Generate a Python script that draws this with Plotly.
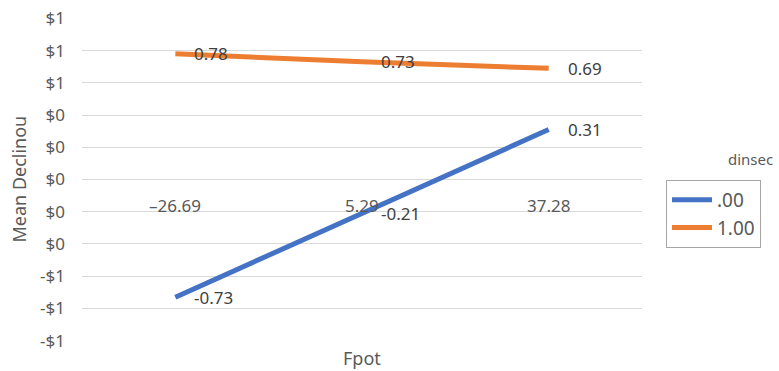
import plotly.graph_objects as go

# Fpot categories (x positions on the category axis)
categories = ["\u201326.69", "5.29", "37.28"]

# Mean Declinou per dinsec group
series_names = [".00", "1.00"]
series_values = [
    [-0.73, -0.21, 0.31],
    [0.78, 0.73, 0.69],
]
series_colors = ["#4472C4", "#ED7D31"]

# Y axis ticks shown as whole-dollar currency
y_tickvals = [1.0, 0.8, 0.6, 0.4, 0.2, 0.0, -0.2, -0.4, -0.6, -0.8, -1.0]
y_ticktext = ["$1", "$1", "$1", "$0", "$0", "$0", "$0", "$0", "-$1", "-$1", "-$1"]

FONT = "Noto Sans"
TXT = "#595959"
LBL = "#404040"

xs = list(range(len(categories)))

fig = go.Figure()
for name, vals, col in zip(series_names, series_values, series_colors):
    fig.add_trace(go.Scatter(
        x=xs, y=vals, mode="lines", name=name,
        line=dict(color=col, width=5),
        hoverinfo="skip",
    ))

annotations = []
# data labels to the right of each point
for vals in series_values:
    for x, v in zip(xs, vals):
        annotations.append(dict(
            x=x, y=v, xref="x", yref="y", text=f"{v:.2f}",
            showarrow=False, xanchor="left", yanchor="middle", xshift=17,
            font=dict(family=FONT, size=17, color=LBL),
        ))

# category labels sitting just under the zero line
for x, c in zip(xs, categories):
    annotations.append(dict(
        x=x, y=0, xref="x", yref="y", text=c, showarrow=False,
        xanchor="center", yanchor="middle", yshift=-26,
        font=dict(family=FONT, size=17, color=TXT),
    ))

# axis titles
annotations.append(dict(
    x=-64 / 560, y=0.5, xref="paper", yref="paper", text="Mean Declinou",
    textangle=-90, showarrow=False, xanchor="center", yanchor="middle",
    font=dict(family=FONT, size=18, color=TXT),
))
annotations.append(dict(
    x=0.5, y=0, xref="paper", yref="paper", text="Fpot", showarrow=False,
    xanchor="center", yanchor="middle", yshift=-17,
    font=dict(family=FONT, size=18, color=TXT),
))
# legend heading
annotations.append(dict(
    x=(750 - 82) / 560, y=(341 - 159) / 323, xref="paper", yref="paper",
    text="dinsec", showarrow=False, xanchor="center", yanchor="middle",
    font=dict(family=FONT, size=15, color=TXT),
))

fig.update_layout(
    width=779, height=371,
    margin=dict(l=82, r=137, t=18, b=30, autoexpand=False),
    paper_bgcolor="white", plot_bgcolor="white",
    font=dict(family=FONT, size=17, color=TXT),
    showlegend=True,
    legend=dict(
        x=(666 - 82) / 560, y=(341 - 180) / 323, xanchor="left", yanchor="top",
        bordercolor="#A6A6A6", borderwidth=1, bgcolor="white",
        font=dict(family=FONT, size=19, color=TXT),
        itemwidth=40, tracegroupgap=0,
    ),
    xaxis=dict(
        range=[-0.5, 2.5], showgrid=False, zeroline=False, showline=False,
        showticklabels=False, ticks="", fixedrange=True, automargin=False,
    ),
    yaxis=dict(
        range=[-1.002, 1.002], tickvals=y_tickvals, ticktext=y_ticktext,
        showgrid=True, gridcolor="#D9D9D9", gridwidth=1,
        zeroline=False, showline=False, ticks="", automargin=False,
        ticklabelstandoff=16,
        tickfont=dict(family=FONT, size=17, color=TXT),
    ),
    annotations=annotations,
)

fig.write_html("out.html")
